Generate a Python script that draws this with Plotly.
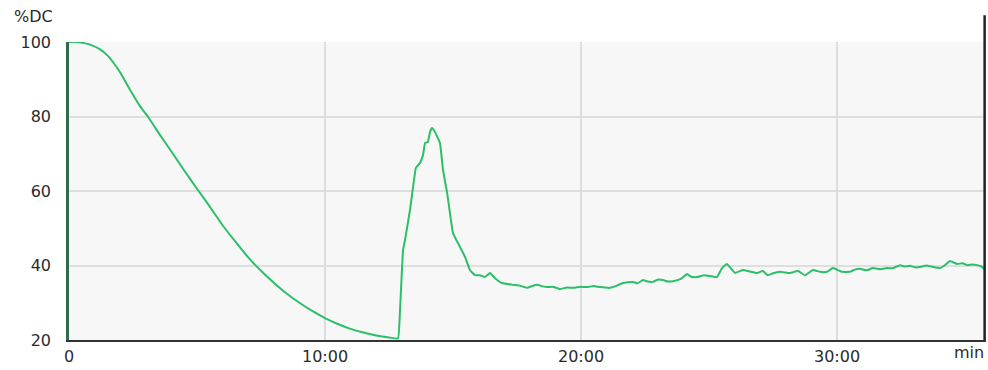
import plotly.graph_objects as go

# time in minutes, value in %DC
time_min = [0.0, 0.3, 0.6, 0.9, 1.2, 1.5, 1.75, 2.0, 2.4, 2.8, 3.1, 3.5, 4.0, 4.5, 5.0, 5.5, 6.0, 6.5,
            7.0, 7.5, 8.0, 8.5, 9.0, 9.5, 10.0, 10.5, 11.0, 11.5, 12.0, 12.5, 12.85,
            12.93, 13.05, 13.13, 13.32, 13.44, 13.55, 13.71, 13.83, 13.91, 14.02, 14.1, 14.18, 14.3, 14.49,
            14.61, 14.77, 14.88, 15.0, 15.27, 15.47, 15.66, 15.86, 16.05, 16.25, 16.45, 16.64, 16.91, 17.34,
            17.6, 17.89, 18.1, 18.28, 18.5, 18.67, 18.9, 19.18, 19.45, 19.69, 20.0, 20.23, 20.5, 20.74, 21.13,
            21.4, 21.64, 22.03, 22.2, 22.42, 22.6, 22.81, 23.0, 23.2, 23.4, 23.59, 23.9,
            24.14, 24.3, 24.53, 24.8, 25.04, 25.31, 25.51, 25.7, 26.02, 26.33, 26.6, 26.88, 27.1, 27.3, 27.5,
            27.77, 28.16, 28.48, 28.75, 29.06, 29.34, 29.61, 29.84, 30.2, 30.5, 30.7, 30.9, 31.15, 31.4, 31.7,
            31.95, 32.19, 32.46, 32.65, 32.85, 33.05, 33.24, 33.5, 33.75, 34.02, 34.2, 34.41, 34.69, 34.9,
            35.08, 35.3, 35.47, 35.65, 35.78]
dc_pct = [100.0, 100.0, 99.7, 99.1, 98.1, 96.4, 94.3, 91.8, 87.0, 82.5, 79.8, 75.6, 70.6, 65.5, 60.6, 55.8,
          50.8, 46.4, 42.2, 38.6, 35.4, 32.5, 30.0, 27.8, 25.9, 24.3, 23.0, 22.0, 21.2, 20.7, 20.4,
          28.0, 44.2, 47.0, 54.9, 61.1, 66.2, 67.5, 69.7, 72.9, 73.2, 75.8, 76.9, 75.8, 72.9,
          65.6, 59.5, 54.1, 48.7, 45.0, 42.3, 38.8, 37.4, 37.4, 36.9, 38.0, 36.6, 35.3, 34.8,
          34.6, 34.0, 34.5, 34.8, 34.4, 34.2, 34.3, 33.7, 34.1, 34.0, 34.3, 34.2, 34.5, 34.2, 34.0,
          34.6, 35.3, 35.6, 35.2, 36.1, 35.7, 35.6, 36.2, 36.1, 35.7, 35.8, 36.4,
          37.7, 37.0, 36.9, 37.4, 37.2, 36.9, 39.3, 40.4, 38.0, 38.8, 38.4, 38.0, 38.5, 37.4, 37.9,
          38.3, 38.0, 38.5, 37.4, 38.8, 38.3, 38.3, 39.3, 38.3, 38.3, 38.9, 39.1, 38.7, 39.3, 39.0,
          39.3, 39.3, 40.1, 39.7, 39.9, 39.5, 39.6, 40.0, 39.6, 39.3, 40.0, 41.2, 40.4, 40.6,
          40.1, 40.3, 40.1, 39.7, 38.8]

x_tick_vals = [0, 10, 20, 30]
x_tick_text = ["0", "10:00", "20:00", "30:00"]
y_tick_vals = [20, 40, 60, 80, 100]

FONT = "DejaVu Sans"
TXT = "#2b2b2b"

fig = go.Figure()
fig.add_trace(go.Scatter(x=time_min, y=dc_pct, mode="lines",
                         line=dict(color="#2cbf6a", width=2, shape="spline", smoothing=0.3),
                         hoverinfo="skip", showlegend=False))

fig.update_layout(
    width=988, height=370,
    margin=dict(l=69, r=2, t=42, b=30),
    paper_bgcolor="white", plot_bgcolor="#f7f7f7",
    font=dict(family=FONT, size=16, color=TXT),
    showlegend=False,
)
fig.update_xaxes(range=[0, 35.82], tickvals=x_tick_vals, ticktext=x_tick_text,
                 showgrid=True, gridcolor="#dedede", gridwidth=1.5,
                 showline=True, linecolor="#333333", linewidth=2,
                 zeroline=False, ticks="", ticklabelstandoff=1, tickfont=dict(size=16))
fig.update_yaxes(range=[20, 100], tickvals=y_tick_vals,
                 showgrid=True, gridcolor="#dedede", gridwidth=1.5,
                 showline=True, linecolor="#2f6b4c", linewidth=2.5,
                 zeroline=False, ticks="", ticklabelstandoff=12, tickfont=dict(size=16))

# right frame line extending above plot area
fig.add_shape(type="line", xref="paper", yref="paper", x0=0.9985, x1=0.9985, y0=0, y1=1.09,
              layer="above", line=dict(color="#222222", width=2.5))

fig.add_annotation(text="%DC", xref="paper", yref="paper", x=-0.0153, y=1.084,
                   xanchor="right", yanchor="middle", showarrow=False,
                   font=dict(family=FONT, size=16, color=TXT))
fig.add_annotation(text="min", xref="paper", yref="paper", x=1, y=0,
                   xanchor="right", yanchor="top", yshift=-1, showarrow=False,
                   font=dict(family=FONT, size=16, color=TXT))

# remove the default page margin so the figure fills the window exactly
fig.write_html("out.html", config={"displayModeBar": False},
               post_script="document.body.style.margin='0';document.body.style.overflow='hidden';")
